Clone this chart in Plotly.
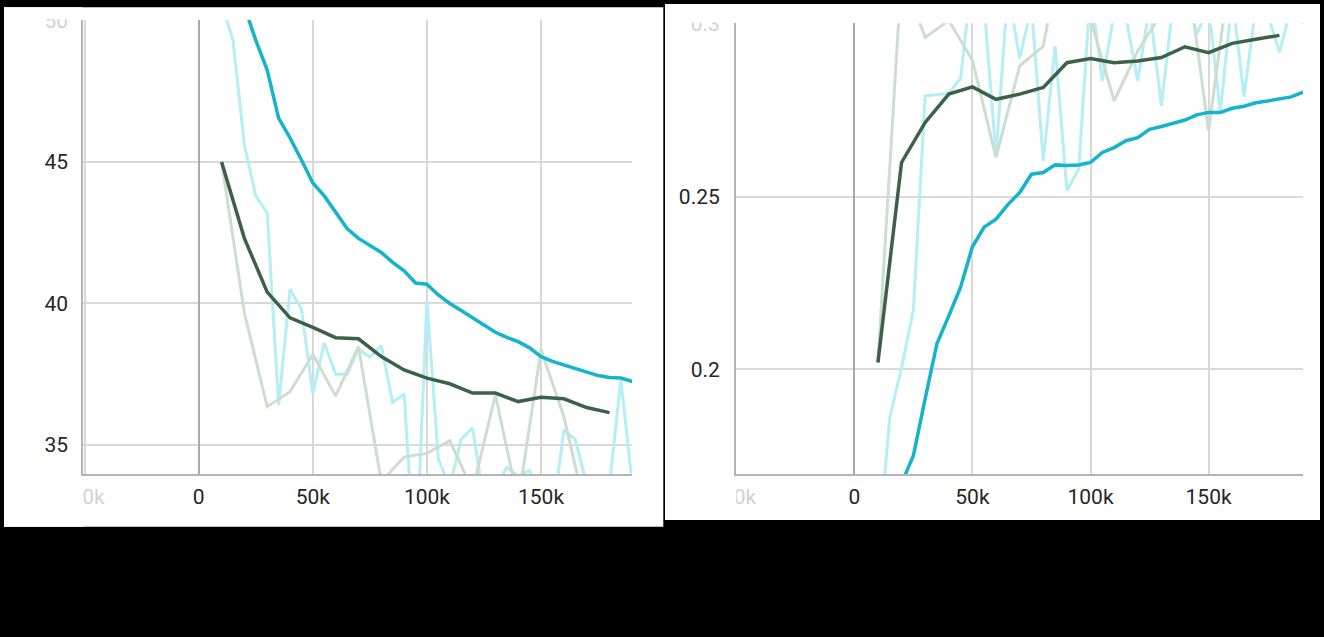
import plotly.graph_objects as go

# ---------------- data ----------------
# run A (cyan): logged every 5k steps
steps_a = [5000 * i for i in range(1, 39)]  # 5k .. 190k
# run B (green): logged every 10k steps
steps_b = [10000 * i for i in range(1, 19)]  # 10k .. 180k

# left panel (loss-like metric)
cyan_raw_left = [68.0, 50.6, 49.3, 45.6, 43.8, 43.2, 36.4, 40.5, 39.8, 36.8,
                 38.6, 37.5, 37.5, 38.4, 38.1, 38.5, 36.5, 36.8, 30.5, 40.1,
                 34.5, 33.5, 35.2, 35.6, 33.0, 33.5, 34.2, 33.9, 34.1, 33.0,
                 32.5, 35.5, 35.2, 33.6, 33.2, 33.6, 37.3, 33.6]
teal_smooth_left = [68.0, 60.0, 54.5, 50.5, 49.3, 48.25, 46.55, 45.85, 45.07, 44.26,
                    43.8, 43.2, 42.65, 42.3, 42.05, 41.8, 41.45, 41.15, 40.72, 40.68,
                    40.3, 40.0, 39.75, 39.5, 39.22, 38.98, 38.8, 38.65, 38.43, 38.12,
                    37.95, 37.82, 37.71, 37.58, 37.45, 37.38, 37.36, 37.24]
green_raw_left = [45.0, 39.66, 36.35, 36.88, 38.2, 36.73, 38.47, 33.7, 34.57,
                  34.70, 35.15, 33.4, 36.77, 33.0, 38.36, 36.0, 32.5, 33.5]
green_smooth_left = [45.0, 42.3, 40.4, 39.49, 39.15, 38.79, 38.75, 38.12, 37.65,
                     37.36, 37.16, 36.83, 36.83, 36.53, 36.68, 36.63, 36.32, 36.14]

# right panel (score-like metric)
cyan_raw_right = [0.100, 0.147, 0.186, 0.2005, 0.217, 0.2792, 0.2795, 0.2800, 0.2843, 0.315,
                  0.305, 0.2618, 0.310, 0.2900, 0.305, 0.2604, 0.2936, 0.2517, 0.258, 0.310,
                  0.2835, 0.303, 0.302, 0.2835, 0.305, 0.2763, 0.306, 0.310, 0.297, 0.305,
                  0.2745, 0.308, 0.2790, 0.305, 0.303, 0.2917, 0.305, 0.300]
teal_smooth_right = [0.100, 0.125, 0.148, 0.167, 0.175, 0.1915, 0.2075, 0.2155, 0.2238, 0.2355,
                     0.2412, 0.2435, 0.2477, 0.2512, 0.2565, 0.2570, 0.2592, 0.2590, 0.2592, 0.2599,
                     0.2628, 0.2642, 0.2662, 0.2671, 0.2695, 0.2703, 0.2713, 0.2722, 0.2737, 0.2744,
                     0.2744, 0.2756, 0.2762, 0.2772, 0.2777, 0.2782, 0.2789, 0.2803]
green_raw_right = [0.202, 0.315, 0.2961, 0.301, 0.2895, 0.2614, 0.2879, 0.2936, 0.330,
                   0.3015, 0.2777, 0.2922, 0.303, 0.320, 0.2691, 0.320, 0.311, 0.310]
green_smooth_right = [0.202, 0.2599, 0.2715, 0.2797, 0.2818, 0.2782, 0.2797, 0.2816, 0.2888,
                      0.2900, 0.2888, 0.2893, 0.2903, 0.2934, 0.2917, 0.2944, 0.2956, 0.2967]

x_tick_vals = [-50000, 0, 50000, 100000, 150000]
x_tick_text = ["-50k", "0", "50k", "100k", "150k"]
y_tick_vals_left = [35, 40, 45, 50]
y_tick_text_left = ["35", "40", "45", "50"]
y_tick_vals_right = [0.2, 0.25, 0.3]
y_tick_text_right = ["0.2", "0.25", "0.3"]

# ---------------- style ----------------
W, H = 1324, 637
C_CYAN_RAW = "#b5eef6"
C_TEAL = "#14b4ca"
C_GREEN_RAW = "#cbdecf"
C_GREEN = "#3c6148"
FADED = "#d2d2d2"
TXT = "#262626"


def fade(label):
    return "<span style='color:%s'>%s</span>" % (FADED, label)


def px_x(p):
    return p / W


def px_y(p):
    return 1 - p / H


fig = go.Figure()

for xa, ya, cr, ts, gr, gs in [
    ("x", "y", cyan_raw_left, teal_smooth_left, green_raw_left, green_smooth_left),
    ("x2", "y2", cyan_raw_right, teal_smooth_right, green_raw_right, green_smooth_right),
]:
    fig.add_trace(go.Scatter(x=steps_a, y=cr, mode="lines", xaxis=xa, yaxis=ya,
                             line=dict(color=C_CYAN_RAW, width=3), hoverinfo="skip"))
    fig.add_trace(go.Scatter(x=steps_b, y=gr, mode="lines", xaxis=xa, yaxis=ya,
                             line=dict(color=C_GREEN_RAW, width=3), hoverinfo="skip"))
    fig.add_trace(go.Scatter(x=steps_a, y=ts, mode="lines", xaxis=xa, yaxis=ya,
                             line=dict(color=C_TEAL, width=3.5)))
    fig.add_trace(go.Scatter(x=steps_b, y=gs, mode="lines", xaxis=xa, yaxis=ya,
                             line=dict(color=C_GREEN, width=3.5)))

axis_common = dict(
    showgrid=True, gridcolor="#d9d9d9", gridwidth=1.5,
    showline=True, linecolor="#b4b4b4", linewidth=2,
    ticks="", tickfont=dict(family="Roboto", size=21, color=TXT),
    fixedrange=True, automargin=False,
)

fig.update_layout(
    width=W, height=H, autosize=False,
    margin=dict(l=0, r=0, t=0, b=0, pad=0),
    paper_bgcolor="black", plot_bgcolor="white",
    showlegend=False,
    xaxis=dict(domain=[px_x(83.3), px_x(632.3)], range=[-50600, 190000],
               tickvals=x_tick_vals, ticktext=[fade(x_tick_text[0])] + x_tick_text[1:],
               zeroline=True, zerolinecolor="#a9a9a9", zerolinewidth=2,
               ticklabelstandoff=3, anchor="y", **axis_common),
    yaxis=dict(domain=[px_y(474), px_y(20)], range=[33.97, 50.02],
               tickvals=y_tick_vals_left, ticktext=y_tick_text_left[:-1] + [fade(y_tick_text_left[-1])],
               zeroline=False, ticklabelstandoff=9, anchor="x", **axis_common),
    xaxis2=dict(domain=[px_x(736), px_x(1303.3)], range=[-50100, 190100],
                tickvals=x_tick_vals, ticktext=[fade(x_tick_text[0])] + x_tick_text[1:],
                zeroline=True, zerolinecolor="#a9a9a9", zerolinewidth=2,
                ticklabelstandoff=3, anchor="y2", **axis_common),
    yaxis2=dict(domain=[px_y(474), px_y(23.3)], range=[0.1697, 0.3002],
                tickvals=y_tick_vals_right, ticktext=y_tick_text_right[:-1] + [fade(y_tick_text_right[-1])],
                zeroline=False, ticklabelstandoff=10, anchor="x2", **axis_common),
)

shapes = [
    # white card panels
    dict(type="rect", xref="paper", yref="paper", layer="below",
         x0=px_x(4), x1=px_x(663.3), y0=px_y(526.7), y1=px_y(7.3),
         fillcolor="white", line=dict(width=0)),
    dict(type="rect", xref="paper", yref="paper", layer="below",
         x0=px_x(665), x1=px_x(1320), y0=px_y(520), y1=px_y(4),
         fillcolor="white", line=dict(width=0)),
    # clipping covers for edge tick labels
    dict(type="rect", xref="paper", yref="paper", layer="above",
         x0=px_x(4), x1=px_x(82), y0=px_y(19.2), y1=px_y(7.3),
         fillcolor="white", line=dict(width=0)),
    dict(type="rect", xref="paper", yref="paper", layer="above",
         x0=px_x(4), x1=px_x(83.5), y0=px_y(526.7), y1=px_y(476),
         fillcolor="white", line=dict(width=0)),
    dict(type="rect", xref="paper", yref="paper", layer="above",
         x0=px_x(665), x1=px_x(735), y0=px_y(22.3), y1=px_y(4),
         fillcolor="white", line=dict(width=0)),
    dict(type="rect", xref="paper", yref="paper", layer="above",
         x0=px_x(665), x1=px_x(736.2), y0=px_y(520), y1=px_y(476),
         fillcolor="white", line=dict(width=0)),
]
fig.update_layout(shapes=shapes)

fig.write_html(
    "out.html",
    config={"displayModeBar": False},
    post_script="document.body.style.margin='0';document.body.style.background='black';"
                "document.documentElement.style.overflow='hidden';",
)
